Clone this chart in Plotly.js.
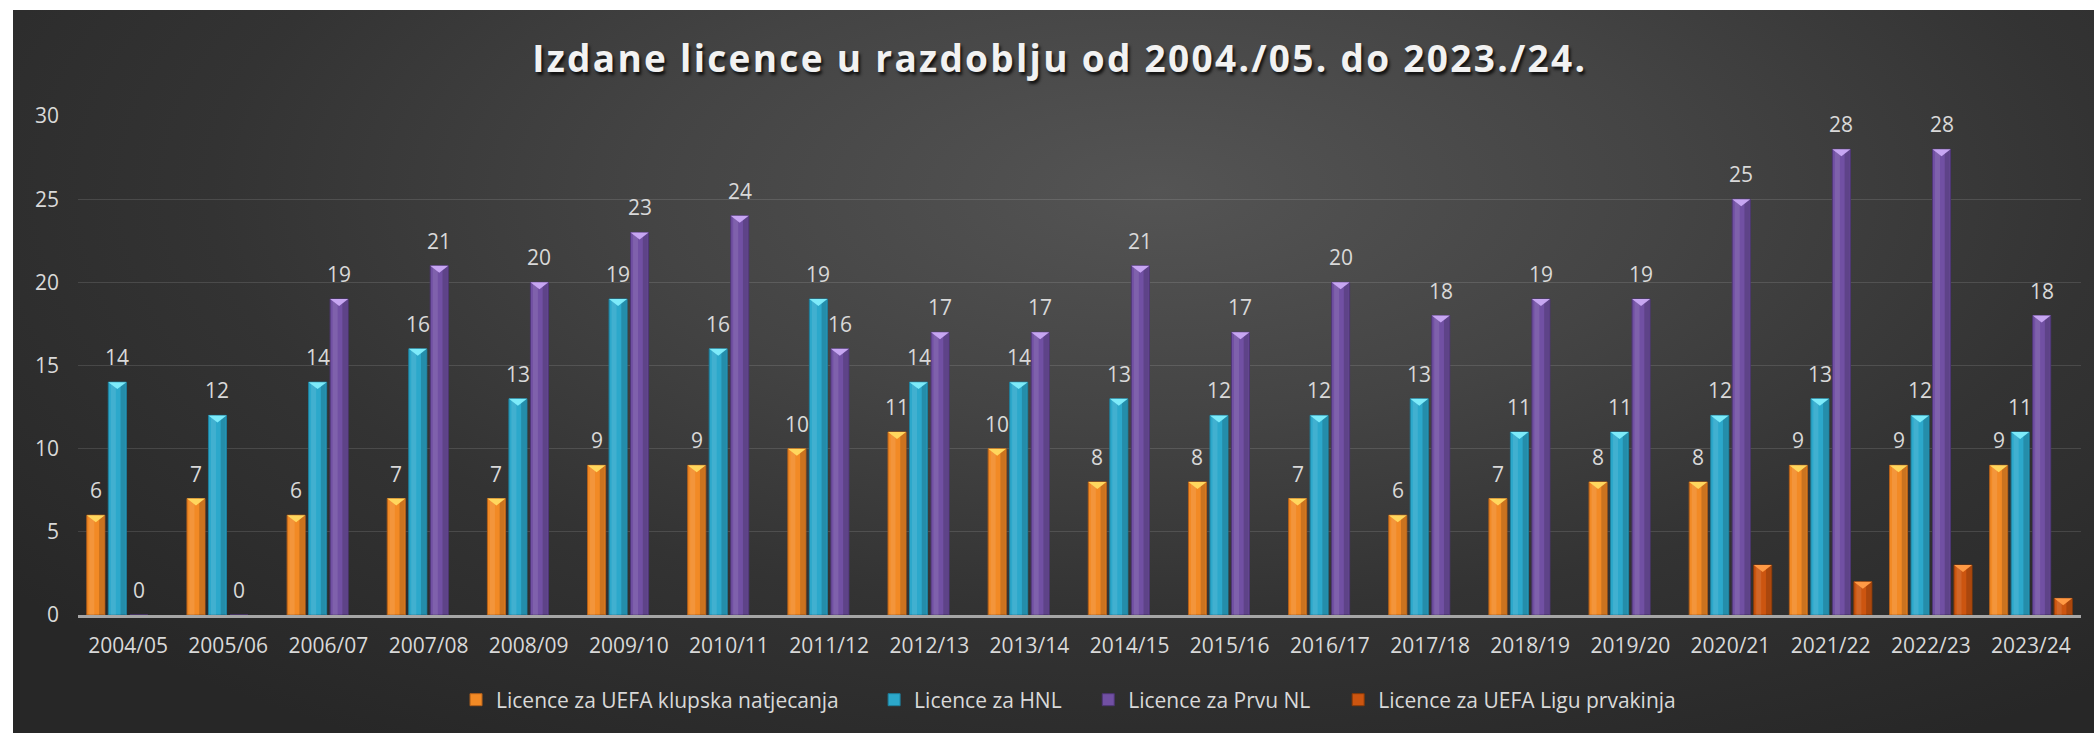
<!DOCTYPE html>
<html>
<head>
<meta charset="utf-8">
<script src="https://cdn.plot.ly/plotly-3.0.1.min.js"></script>
<style>
  html, body { margin: 0; padding: 0; background: #ffffff; width: 2094px; height: 733px; overflow: hidden; }
  #chart {
    position: absolute; left: 13px; top: 10px; width: 2081px; height: 723px;
    background: radial-gradient(ellipse 70% 90% at 55% 25%, #545454 0%, #444444 35%, #333333 65%, #272727 100%);
  }
  #chart .gtitle { text-shadow: 2px 3px 3px rgba(0,0,0,0.75); letter-spacing: 2.3px; }
</style>
</head>
<body>
<div id="chart"></div>
<script>
// ---- data ----
const seasons = ["2004/05","2005/06","2006/07","2007/08","2008/09","2009/10","2010/11","2011/12","2012/13","2013/14",
                 "2014/15","2015/16","2016/17","2017/18","2018/19","2019/20","2020/21","2021/22","2022/23","2023/24"];
const uefaClub  = [6, 7, 6, 7, 7, 9, 9, 10, 11, 10, 8, 8, 7, 6, 7, 8, 8, 9, 9, 9];
const hnl       = [14, 12, 14, 16, 13, 19, 16, 19, 14, 14, 13, 12, 12, 13, 11, 11, 12, 13, 12, 11];
const prvaNL    = [0, 0, 19, 21, 20, 23, 24, 16, 17, 17, 21, 17, 20, 18, 19, 19, 25, 28, 28, 18];
const uefaWomen = [null, null, null, null, null, null, null, null, null, null, null, null, null, null, null, null, 3, 2, 3, 1];
const seriesNames = ["Licence za UEFA klupska natjecanja", "Licence za HNL", "Licence za Prvu NL", "Licence za UEFA Ligu prvakinja"];
const titleText = "Izdane licence u razdoblju od 2004./05. do 2023./24.";

// ---- styles ----
const series = [uefaClub, hnl, prvaNL, uefaWomen];
const fillColors = ["#F28A25", "#2CA8CB", "#7150A3", "#CC5510"];
const edgeColors = ["#B5601A", "#1E7F9C", "#4E3675", "#8A3A08"];
const capColors  = ["#FFD75E", "#7DEBFA", "#C7A6F2", "#FF9A45"];
const showLabels = [true, true, true, false];
const legendX = [0.2129, 0.4138, 0.5167, 0.6368];   // left edge of each legend entry (container fraction)
const barW = 0.18, slot = 0.2147, capH = 0.42, stripW = 0.05;
const xs = seasons.map((s, i) => i);
const txtColor = "#D9D9D9";
const font = "Open Sans, Lato, sans-serif";
const legendIds = ["legend", "legend2", "legend3", "legend4"];

const traces = [];
series.forEach((vals, k) => {
  const off = (k - 1.5) * slot - barW / 2;
  traces.push({
    type: "bar", name: seriesNames[k], legend: legendIds[k],
    x: xs, y: vals, width: barW, offset: off,
    marker: { color: fillColors[k], line: { color: edgeColors[k], width: 1 } },
    hoverinfo: "y+name"
  });
});
// shading strips (highlight on the left, shadow on the right) for a rounded look
series.forEach((vals, k) => {
  const off = (k - 1.5) * slot - barW / 2;
  traces.push({
    type: "bar", showlegend: false, hoverinfo: "skip",
    x: xs, y: vals, width: stripW, offset: off + 0.025,
    marker: { color: "rgba(255,255,255,0.10)", line: { width: 0 } }
  });
  traces.push({
    type: "bar", showlegend: false, hoverinfo: "skip",
    x: xs, y: vals, width: stripW, offset: off + barW - stripW - 0.008,
    marker: { color: "rgba(0,0,0,0.16)", line: { width: 0 } }
  });
});

const shapes = [];
const annotations = [];
series.forEach((vals, k) => {
  vals.forEach((v, i) => {
    if (v === null || v === undefined) return;
    const xc = i + (k - 1.5) * slot;
    if (v > 0) {
      shapes.push({
        type: "path", xref: "x", yref: "y",
        path: `M ${xc - barW / 2},${v} L ${xc + barW / 2},${v} L ${xc},${v - capH} Z`,
        fillcolor: capColors[k], line: { width: 0 }, layer: "above"
      });
    }
    if (showLabels[k]) {
      annotations.push({
        x: xc, y: v, xref: "x", yref: "y", text: String(v), showarrow: false,
        yanchor: "middle", yshift: 25, font: { family: font, size: 21, color: txtColor }
      });
    }
  });
});

const layout = {
  width: 2081, height: 723,
  paper_bgcolor: "rgba(0,0,0,0)", plot_bgcolor: "rgba(0,0,0,0)",
  margin: { l: 65, r: 13, t: 106, b: 118 },
  barmode: "overlay",
  title: {
    text: "<b>" + titleText + "</b>",
    x: 0.503, xref: "container", xanchor: "center",
    y: 0.932, yref: "container", yanchor: "middle",
    font: { family: font, size: 37, color: "#F2F2F2" }
  },
  xaxis: {
    range: [-0.5, 19.5], tickmode: "array", tickvals: xs, ticktext: seasons,
    showgrid: false, zeroline: false, showline: true, linecolor: "#A6A6A6", linewidth: 3,
    ticks: "", ticklabelstandoff: 10,
    tickfont: { family: font, size: 21, color: txtColor }, fixedrange: true
  },
  yaxis: {
    range: [0, 30], dtick: 5, tick0: 0,
    showgrid: true, gridcolor: "rgba(255,255,255,0.12)", gridwidth: 1,
    zeroline: false, showline: false, ticks: "", ticklabelstandoff: 18,
    tickfont: { family: font, size: 21, color: txtColor }, fixedrange: true
  },
  showlegend: true,
  shapes: shapes,
  annotations: annotations
};
legendIds.forEach((id, k) => {
  layout[id] = {
    orientation: "h", xref: "container", yref: "container",
    x: legendX[k], xanchor: "left", y: 0.0456, yanchor: "middle",
    font: { family: font, size: 21, color: txtColor },
    itemwidth: 30, bgcolor: "rgba(0,0,0,0)"
  };
});

Plotly.newPlot("chart", traces, layout, { displayModeBar: false, staticPlot: false });
</script>
</body>
</html>
